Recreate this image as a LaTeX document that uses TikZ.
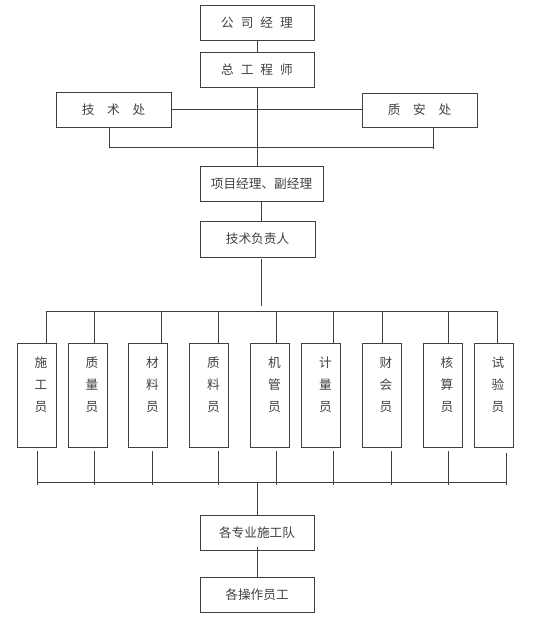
\documentclass[tikz,border=0pt]{standalone}
\usepackage{fontspec}
\setmainfont{Noto Sans CJK SC}
\begin{document}
\begin{tikzpicture}[x=0.75pt,y=-0.75pt,
  ln/.style={draw=black!75,line width=0.7pt},
  box/.style 2 args={draw=black!75,line width=0.7pt,rectangle,inner sep=0pt,
     minimum width=#1*0.75pt,minimum height=#2*0.75pt,
     font=\fontsize{9.5}{11}\selectfont,text=black!75},
  emp/.style={box={39}{104}},
  etxt/.style={font=\fontsize{9.5}{16.5}\selectfont,text=black!75,align=center,inner sep=0pt}
]
\useasboundingbox (0,0) rectangle (554,621);
% top part
\node[box={114}{35}] (gs) at (257,22.5) {公\hspace{0.55em}司\hspace{0.55em}经\hspace{0.55em}理};
\node[box={114}{35}] (zg) at (257,69.5) {总\hspace{0.55em}工\hspace{0.55em}程\hspace{0.55em}师};
\node[box={115}{35}] (js) at (113.5,109.5) {技\hspace{1em}术\hspace{1em}处};
\node[box={115}{34}] (za) at (419.5,110) {质\hspace{1em}安\hspace{1em}处};
\node[box={123}{35}] (xm) at (261.5,183.5) {项目经理、副经理};
\node[box={115}{36}] (jf) at (257.5,239) {技术负责人};
\node[box={114}{35}] (dt) at (257,532.5) {各专业施工队};
\node[box={114}{35}] (cz) at (257,594.5) {各操作员工};

\draw[ln] (gs.south) -- (zg.north);
\draw[ln] (zg.south) -- (zg.south |- xm.north);
\draw[ln] (js.east) -- (za.west |- js.east);
\coordinate (b1) at (109,147);
\coordinate (b2) at (433,147);
\draw[ln] (js.south -| b1) -- (b1) -- (b2) -- (za.south -| b2);
\draw[ln] (b2) -- ++(0,2);
\draw[ln] (xm.south -| 261,0) -- (jf.north -| 261,0);
\coordinate (t0) at (261,306);
\draw[ln] (jf.south -| 261,0) ++(0,2) -- (t0);

% employee boxes
\foreach \n/\cx/\t in {e1/36.5/{施\\工\\员},e2/87.5/{质\\量\\员},e3/148/{材\\料\\员},
   e4/209/{质\\料\\员},e5/270/{机\\管\\员},e6/321/{计\\量\\员},
   e7/381.5/{财\\会\\员},e8/442.5/{核\\算\\员},e9/493.5/{试\\验\\员}}{
  \node[emp] (\n) at (\cx,395) {};
  \node[etxt] (\n t) at (\cx+4.5,385) {\t};
}
% top distribution line
\coordinate (hl) at (46,311);
\coordinate (hr) at (497,311);
\draw[ln] (hl) -- (hr);
\foreach \n/\x in {e1/46,e2/94,e3/161,e4/218,e5/276,e6/333,e7/382,e8/448,e9/497}{
  \draw[ln] (\x,311) -- (\n.north -| \x,0);
}
% bottom collection line
\coordinate (ll) at (37,482);
\coordinate (lr) at (506,482);
\draw[ln] (ll) -- (lr);
\foreach \n/\x/\s in {e1/37/451,e2/94/451,e3/152/451,e4/218/451,e5/276/451,e6/333/451,e7/391/451,e8/448/451,e9/506/453}{
  \coordinate (\n b) at (\x,\s);
  \draw[ln] (\n b) -- (\x,485);
}
\coordinate (m0) at (257,482);
\draw[ln] (m0) -- (dt.north);
\draw[ln] (dt.south) ++(0,-3) -- (cz.north);
\end{tikzpicture}
\end{document}
